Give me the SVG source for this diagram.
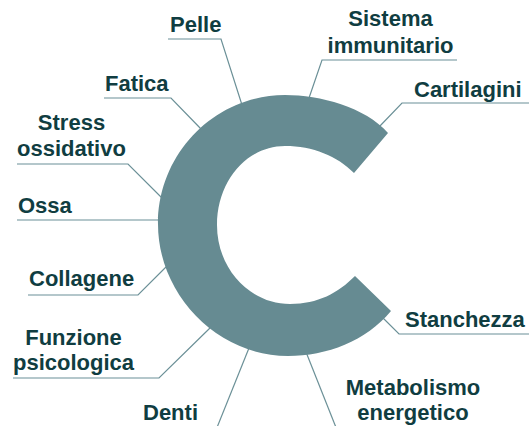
<svg xmlns="http://www.w3.org/2000/svg" width="529" height="426" viewBox="0 0 529 426">
  <style>
    .lbl { font-family: "Liberation Sans", Arial, sans-serif; font-weight: bold; font-size: 22px; fill: #103d41; }
    .mid { text-anchor: middle; }
    .ld { fill: none; stroke: #6b9097; stroke-width: 1.2; }
  </style>
  <rect width="529" height="426" fill="#ffffff"/>
  <g id="connectors">
    <path class="ld" d="M168,39 H221 L242,105"/>
    <path class="ld" d="M457,60 H322 L309,98"/>
    <path class="ld" d="M104,98 H171 L202,130"/>
    <path class="ld" d="M529,103 H402 L379,127"/>
    <path class="ld" d="M17,164 H128 L163,199"/>
    <path class="ld" d="M17,220 H162"/>
    <path class="ld" d="M28,295 H138 L167,266"/>
    <path class="ld" d="M13,378 H159 L210,328"/>
    <path class="ld" d="M249,348 L216,430"/>
    <path class="ld" d="M529,334 H399 L382,317"/>
    <path class="ld" d="M306,352 L337,430"/>
  </g>
  <g id="vitamin-c">
    <path fill="#668b92" d="M388,133 C365,107 320,95 285,95 C215,95 158,153 158,224 C158,295 218,356 288,356 C327,356 366,341 391,311 L355,276 C338,293 318,304 290,304 C250,304 217,269 217,225 C217,181 247,146 285,146 C313,146 337,156 354,173 Z"/>
  </g>
  <g id="pelle"><text class="lbl" x="170" y="32">Pelle</text></g>
  <g id="sistema-immunitario">
    <text class="lbl mid" x="390.5" y="26">Sistema</text>
    <text class="lbl mid" x="390.5" y="53">immunitario</text>
  </g>
  <g id="fatica"><text class="lbl" x="105" y="91">Fatica</text></g>
  <g id="cartilagini"><text class="lbl" x="414" y="97">Cartilagini</text></g>
  <g id="stress-ossidativo">
    <text class="lbl mid" x="71.5" y="130">Stress</text>
    <text class="lbl mid" x="71.5" y="156">ossidativo</text>
  </g>
  <g id="ossa"><text class="lbl" x="18" y="213">Ossa</text></g>
  <g id="collagene"><text class="lbl" x="29" y="286">Collagene</text></g>
  <g id="funzione-psicologica">
    <text class="lbl mid" x="73.5" y="345">Funzione</text>
    <text class="lbl mid" x="73.5" y="370">psicologica</text>
  </g>
  <g id="denti"><text class="lbl" x="143" y="420">Denti</text></g>
  <g id="stanchezza"><text class="lbl" x="405" y="327">Stanchezza</text></g>
  <g id="metabolismo-energetico">
    <text class="lbl mid" x="413" y="395">Metabolismo</text>
    <text class="lbl mid" x="413" y="420">energetico</text>
  </g>
</svg>
